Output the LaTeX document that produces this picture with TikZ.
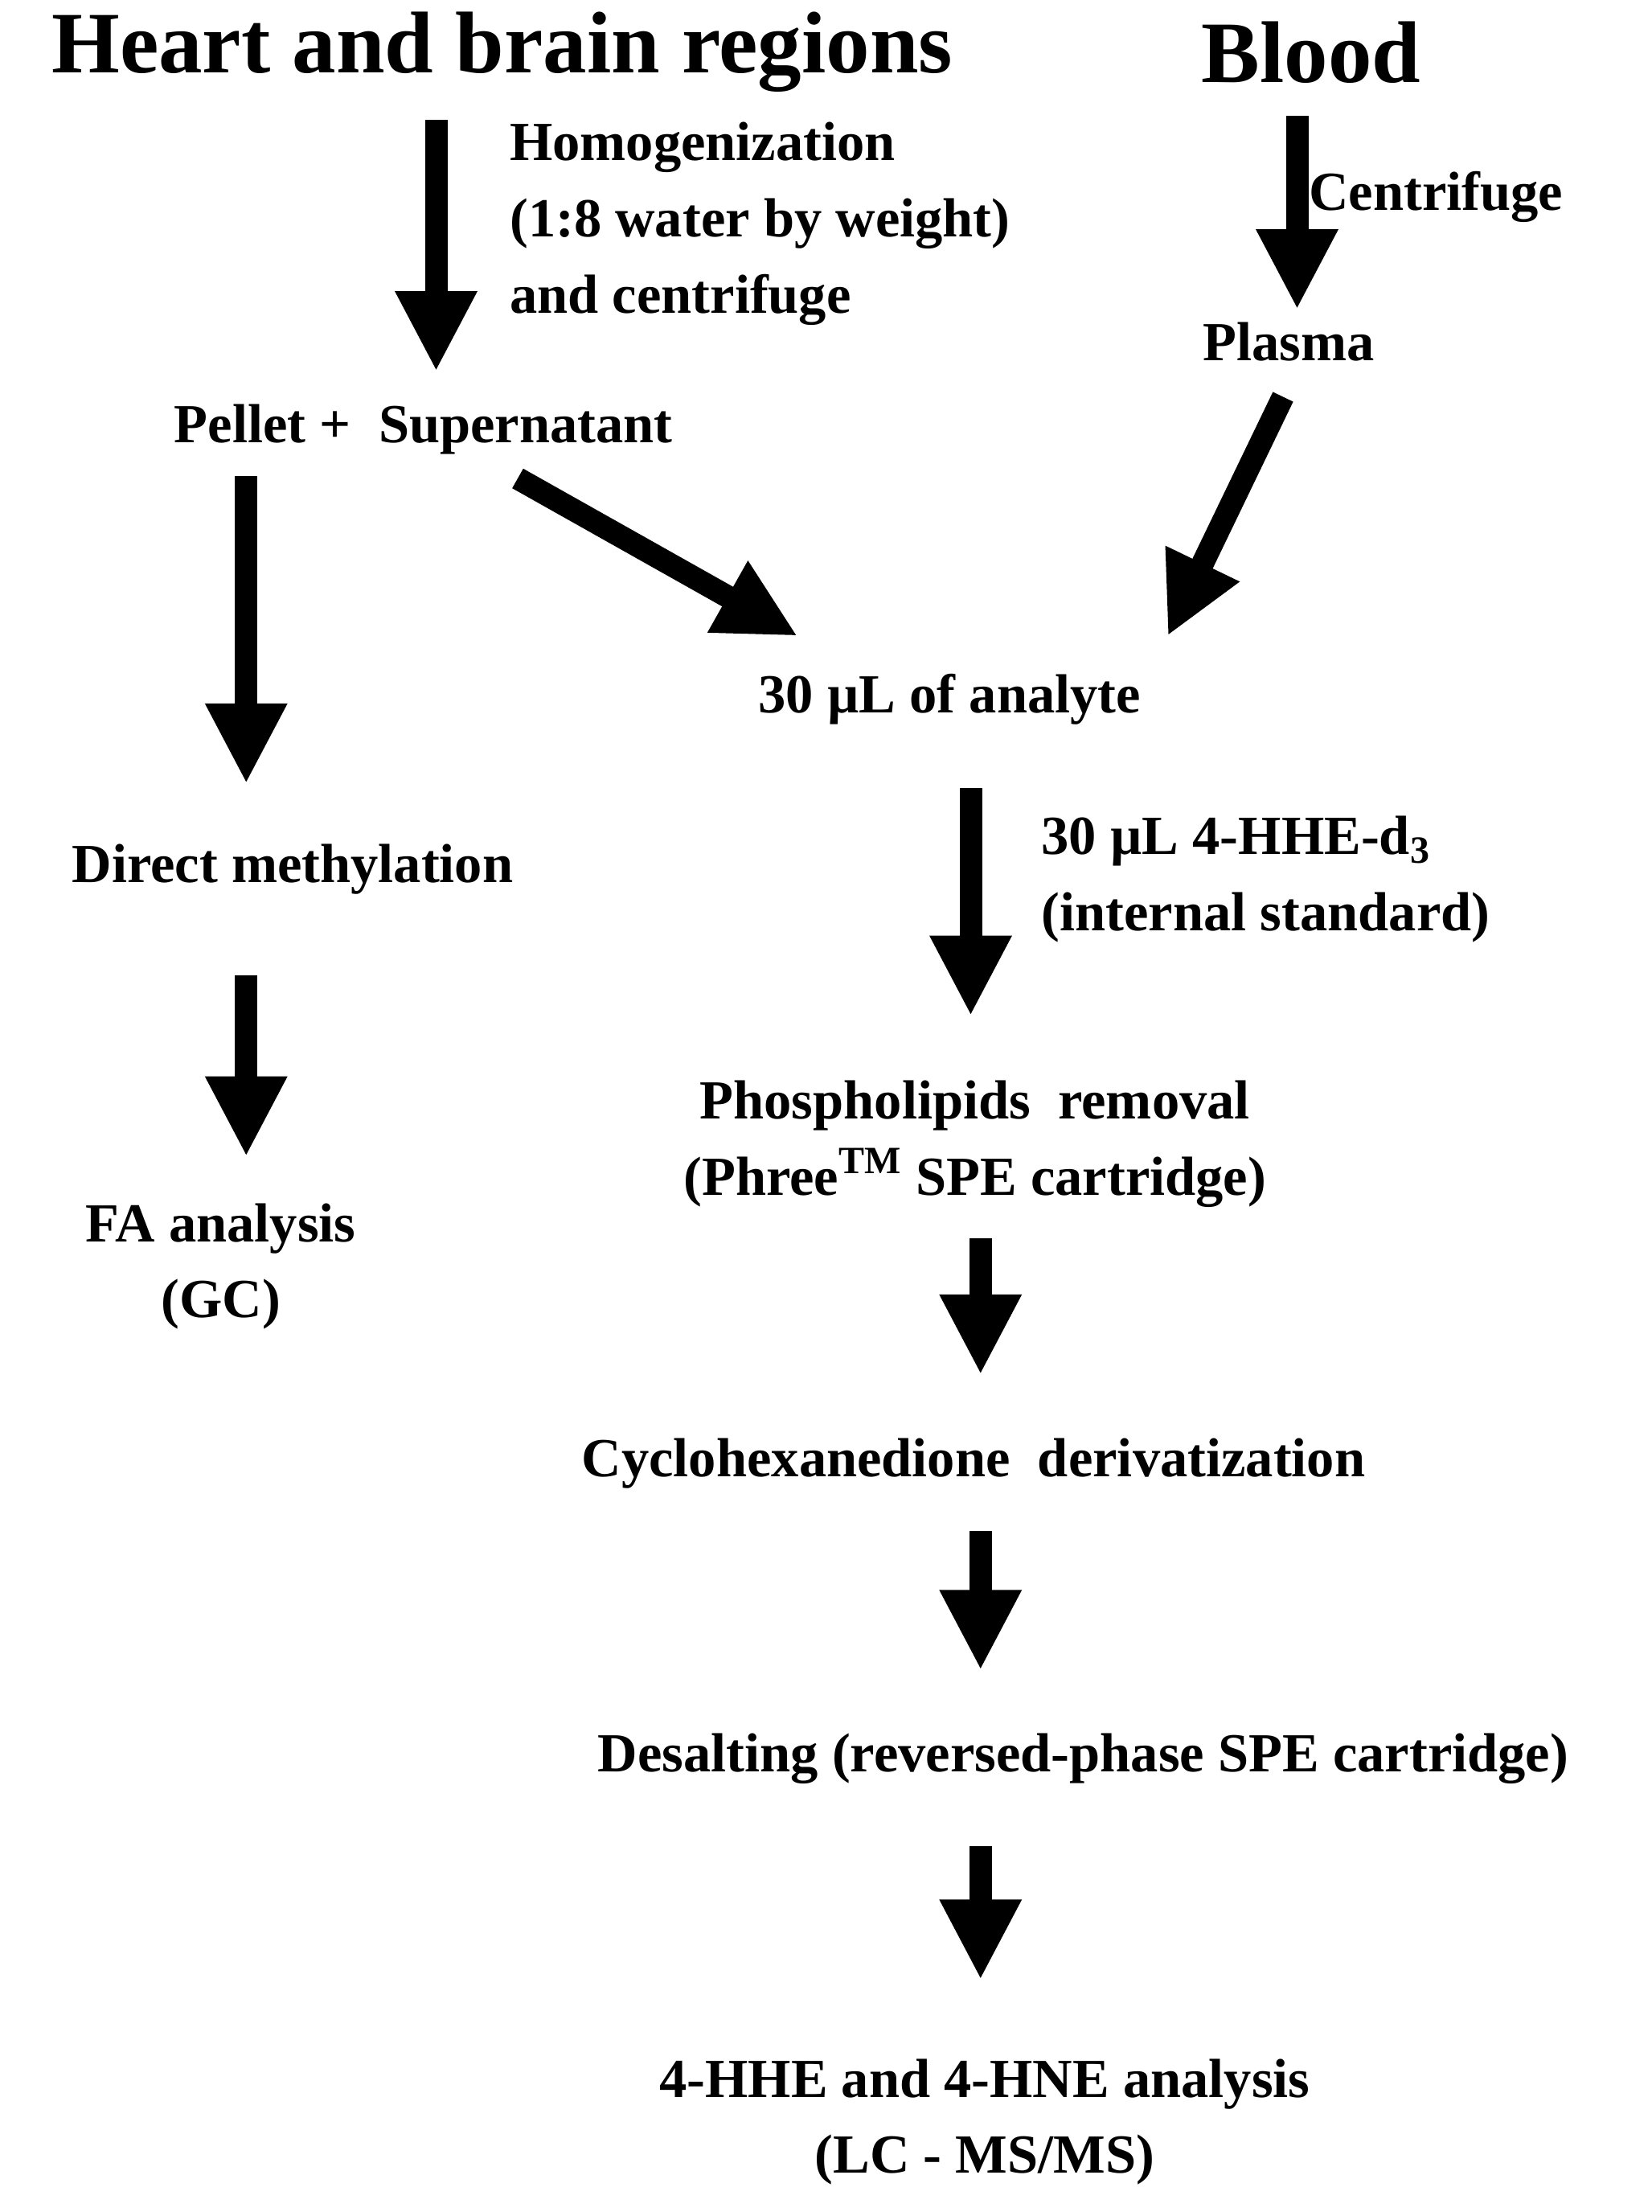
\documentclass[tikz,border=0pt]{standalone}
\usepackage{fontspec}
\setmainfont{Liberation Serif}
\usetikzlibrary{arrows.meta}
\begin{document}
\begin{tikzpicture}[x=0.0175cm,y=-0.0175cm,
  t/.style={font=\fontsize{19.5}{27}\selectfont\bfseries,align=center,inner sep=0pt},
  tl/.style={t,align=left,anchor=west},
  h/.style={font=\fontsize{31}{36}\selectfont\bfseries,inner sep=0pt},
  ar/.style={line width=0.28cm,-{Triangle[length=1.0cm,width=0.95cm]}}]
\useasboundingbox (0,0) rectangle (1174,1572);
\node[h] (heart) at (357,37) {Heart and brain regions};
\node[h] (blood) at (932,37) {Blood};
\node[tl] (homog) at (362,159) {Homogenization\\(1:8 water by weight)\\and centrifuge};
\node[tl] (centr) at (930,140) {Centrifuge};
\node[t] (plasma) at (916,243) {Plasma};
\node[t] (pellet) at (301,305) {Pellet +\ \ Supernatant};
\node[t] (analyte) at (675,497) {30 µL of analyte};
\node[tl] (istd) at (740,625) {30 µL 4-HHE-d\textsubscript{3}\\(internal standard)};
\node[t] (meth) at (208,618) {Direct methylation};
\node[t] (fa) at (157,900) {FA analysis\\(GC)};
\node[t] (phos) at (693,813) {Phospholipids\ \ removal\\(Phree\textsuperscript{TM} SPE cartridge)};
\node[t] (cyclo) at (692,1040) {Cyclohexanedione\ \ derivatization};
\node[t] (desalt) at (770,1250) {Desalting (reversed-phase SPE cartridge)};
\node[t] (final) at (700,1508) {4-HHE and 4-HNE analysis\\(LC - MS/MS)};
\coordinate (a1s) at (310,85); \coordinate (a1e) at (310,264);
\coordinate (a2s) at (922,82); \coordinate (a2e) at (922,220);
\coordinate (a3s) at (175,338); \coordinate (a3e) at (175,557);
\coordinate (a4s) at (368,340); \coordinate (a4e) at (567,452);
\coordinate (a5s) at (912,282); \coordinate (a5e) at (830,452);
\coordinate (a6s) at (690,560); \coordinate (a6e) at (690,722);
\coordinate (a7s) at (175,693); \coordinate (a7e) at (175,822);
\coordinate (a8s) at (697,880); \coordinate (a8e) at (697,977);
\coordinate (a9s) at (697,1088); \coordinate (a9e) at (697,1187);
\coordinate (a10s) at (697,1312); \coordinate (a10e) at (697,1407);
\foreach \i in {1,...,10} \draw[ar] (a\i s) -- (a\i e);
\end{tikzpicture}
\end{document}
